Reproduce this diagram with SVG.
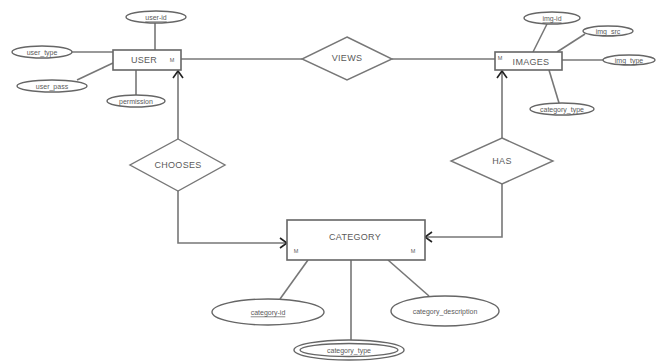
<svg xmlns="http://www.w3.org/2000/svg" width="662" height="362" viewBox="0 0 662 362">
<defs>
<style>
.ent{fill:#fff;stroke:#666;stroke-width:1.6}
.att{fill:#fff;stroke:#666;stroke-width:1.4}
.rel{fill:#fff;stroke:#777;stroke-width:1.4}
.ln{fill:none;stroke:#777;stroke-width:1.6}
.t{font-family:"Liberation Sans",Arial,sans-serif;fill:#5a5a5a;text-anchor:middle;dominant-baseline:central}
.big{font-size:9px;letter-spacing:0.3px}
.sm{font-size:7px}
.m{font-size:5.5px}
.u{text-decoration:underline}
</style>
<marker id="arr" markerWidth="12" markerHeight="12" refX="10" refY="6" orient="auto" markerUnits="userSpaceOnUse">
<path d="M3,1 L10,6 L3,11" fill="none" stroke="#222" stroke-width="1.6"/>
</marker>
</defs>
<rect width="662" height="362" fill="#fff"/>
<g id="connectors">
<line class="ln" x1="155" y1="23" x2="155" y2="50"/>
<line class="ln" x1="72" y1="52" x2="113" y2="52"/>
<line class="ln" x1="77" y1="80" x2="113" y2="63"/>
<line class="ln" x1="136" y1="70" x2="136" y2="95"/>
<line class="ln" x1="181" y1="59" x2="302" y2="59"/>
<line class="ln" x1="392" y1="59" x2="495" y2="59"/>
<line class="ln" x1="178" y1="139" x2="178" y2="71" marker-end="url(#arr)"/>
<polyline class="ln" points="178,191 178,243 287,243" marker-end="url(#arr)"/>
<line class="ln" x1="502" y1="138" x2="502" y2="71" marker-end="url(#arr)"/>
<polyline class="ln" points="502,184 502,237 425,237" marker-end="url(#arr)"/>
<line class="ln" x1="547" y1="24" x2="533" y2="52"/>
<line class="ln" x1="585" y1="34" x2="557" y2="52"/>
<line class="ln" x1="562" y1="60" x2="603" y2="60"/>
<line class="ln" x1="549" y1="70" x2="559" y2="103"/>
<line class="ln" x1="308" y1="260" x2="280" y2="299"/>
<line class="ln" x1="351" y1="260" x2="351" y2="340"/>
<line class="ln" x1="388" y1="260" x2="429" y2="296"/>
</g>
<g id="user">
<rect class="ent" x="113" y="50" width="68" height="20"/>
<text class="t big" x="144" y="60">USER</text>
<text class="t m" x="172" y="60">M</text>
</g>
<g id="user-id">
<ellipse class="att" cx="156" cy="17" rx="30" ry="6"/>
<text class="t sm u" x="156" y="17">user-id</text>
</g>
<g id="user_type">
<ellipse class="att" cx="42" cy="52" rx="30" ry="6"/>
<text class="t sm" x="42" y="52">user_type</text>
</g>
<g id="user_pass">
<ellipse class="att" cx="52" cy="86" rx="35" ry="6"/>
<text class="t sm" x="52" y="86">user_pass</text>
</g>
<g id="permission">
<ellipse class="att" cx="136" cy="101" rx="29" ry="6"/>
<text class="t sm" x="136" y="101">permission</text>
</g>
<g id="views">
<polygon class="rel" points="347,37 392,59 347,80 302,59"/>
<text class="t big" x="347" y="58">VIEWS</text>
</g>
<g id="images">
<rect class="ent" x="495" y="52" width="67" height="18"/>
<text class="t big" x="531" y="62">IMAGES</text>
<text class="t m" x="500" y="58">M</text>
</g>
<g id="img-id">
<ellipse class="att" cx="552" cy="18" rx="28" ry="6"/>
<text class="t sm u" x="552" y="18">img-id</text>
</g>
<g id="img_src">
<ellipse class="att" cx="608" cy="31" rx="25" ry="5"/>
<text class="t sm" x="608" y="31">img_src</text>
</g>
<g id="img_type">
<ellipse class="att" cx="629" cy="60" rx="26" ry="5"/>
<text class="t sm" x="629" y="60">img_type</text>
</g>
<g id="images-category_type">
<ellipse class="att" cx="562" cy="109" rx="32" ry="6"/>
<text class="t sm" x="562" y="109">category_type</text>
</g>
<g id="chooses">
<polygon class="rel" points="178,139 225,165 178,191 130,165"/>
<text class="t big" x="178" y="165">CHOOSES</text>
</g>
<g id="has">
<polygon class="rel" points="502,138 553,161 502,184 451,161"/>
<text class="t big" x="502" y="161">HAS</text>
</g>
<g id="category">
<rect class="ent" x="287" y="220" width="138" height="40"/>
<text class="t big" x="355" y="237">CATEGORY</text>
<text class="t m" x="296" y="251">M</text>
<text class="t m" x="413" y="251">M</text>
</g>
<g id="category-id">
<ellipse class="att" cx="268" cy="312" rx="56" ry="13"/>
<text class="t sm u" x="268" y="312">category-id</text>
</g>
<g id="category_description">
<ellipse class="att" cx="445" cy="311" rx="54" ry="15"/>
<text class="t sm" x="445" y="311">category_description</text>
</g>
<g id="category_type">
<ellipse class="att" cx="349" cy="350" rx="55" ry="10"/>
<ellipse class="att" cx="349" cy="350" rx="49" ry="6.5"/>
<text class="t sm" x="349" y="350">category_type</text>
</g>
</svg>
